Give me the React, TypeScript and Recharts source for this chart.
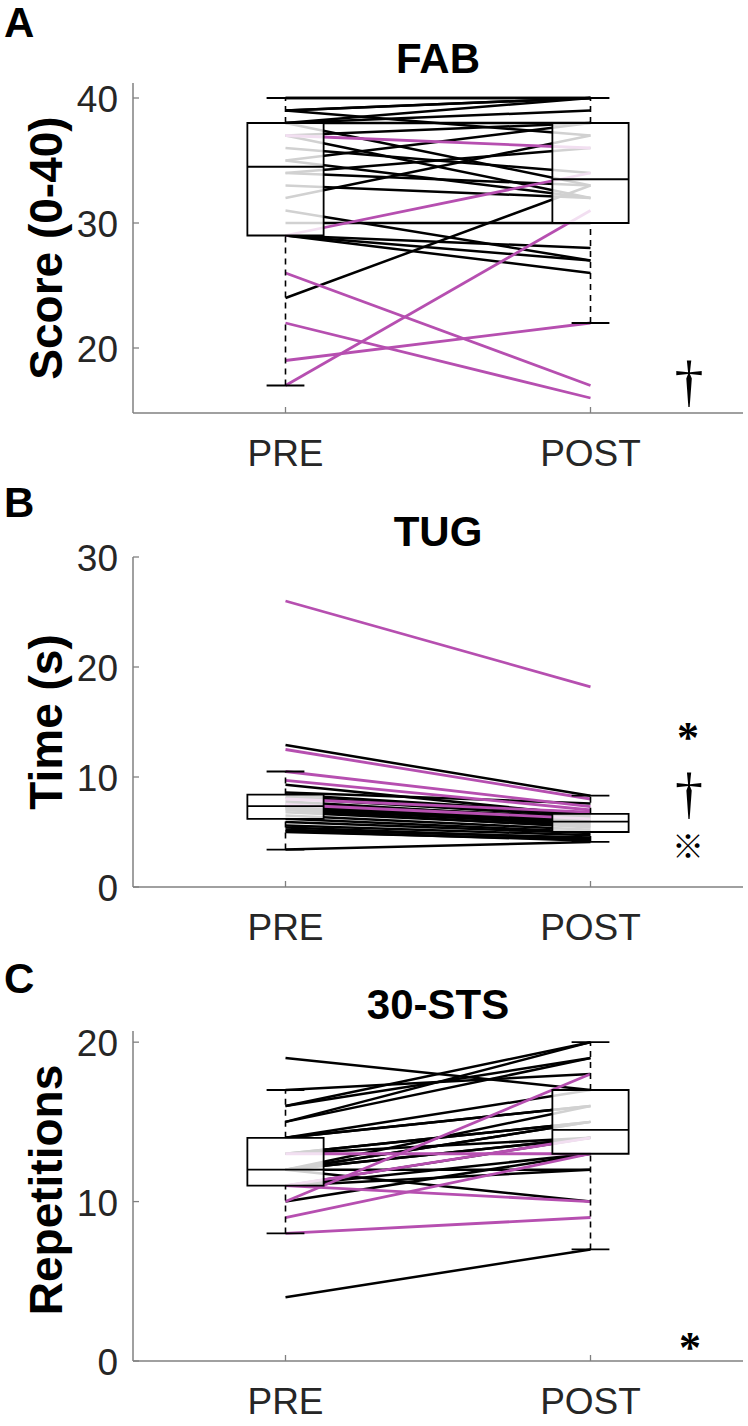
import React from "react";
import {
  ComposedChart,
  Line,
  XAxis,
  YAxis,
  ReferenceArea,
  ReferenceLine,
} from "recharts";

const phases = ["PRE", "POST"];

// FAB (score 0-40)
const fabPreBlack = [40, 40, 39, 39, 39, 38, 38, 38, 38, 37, 37, 36, 35, 35, 34, 34, 33, 32, 31, 30, 29, 29, 29, 24];
const fabPostBlack = [40, 40, 40, 40, 37, 39, 40, 38, 33, 32, 38, 34, 32, 38, 33, 36, 32, 37, 27, 30, 28, 27, 26, 33];
const fabPreMag = [26, 22, 19, 17, 29, 37];
const fabPostMag = [17, 16, 22, 31, 34, 36];
const fabPreBox = [17, 29, 34.5, 38, 40];
const fabPostBox = [22, 30, 33.5, 38, 40];
const fabTicks = [20, 30, 40];

// TUG (s)
const tugPreBlack = [3.4, 5.0, 5.1, 5.2, 5.4, 5.6, 5.9, 6.2, 6.5, 6.8, 7.0, 7.1, 7.2, 7.3, 7.3, 7.4, 7.6, 7.8, 8.1, 8.2, 8.4, 8.6, 9.3, 12.9];
const tugPostBlack = [4.1, 4.3, 4.2, 4.5, 4.4, 4.7, 4.9, 5.0, 5.2, 5.5, 5.4, 5.7, 5.6, 5.9, 5.8, 6.0, 6.3, 6.1, 6.4, 6.6, 6.7, 7.6, 6.5, 8.3];
const tugPreMag = [26.0, 12.5, 10.5, 9.7, 8.0, 7.5];
const tugPostMag = [18.2, 8.0, 7.3, 7.0, 6.8, 6.2];
const tugPreBox = [3.4, 6.2, 7.35, 8.4, 10.5];
const tugPostBox = [4.1, 5.0, 5.95, 6.65, 8.3];
const tugTicks = [0, 10, 20, 30];

// 30-STS (repetitions)
const stsPreBlack = [4, 12, 12, 11, 10, 11, 11, 12, 12, 12, 12, 12, 13, 13, 13, 14, 14, 14, 15, 15, 16, 16, 17, 19];
const stsPostBlack = [7, 10, 12, 12, 13, 13, 14, 14, 14, 15, 15, 16, 14, 15, 15, 16, 16, 17, 20, 19, 19, 20, 18, 17];
const stsPreMag = [8, 9, 10, 11, 13, 11];
const stsPostMag = [9, 13, 18, 10, 13, 14];
const stsPreBox = [8, 11, 12, 14, 17];
const stsPostBox = [7, 13, 14.5, 17, 20];
const stsTicks = [0, 10, 20];

const FONT = "'Liberation Sans', Arial, Helvetica, sans-serif";
const SERIF = "'Liberation Serif', serif";
const INK = "#262626";
const AXIS = "#808080";
const MAGENTA = "#B64FB0";
const BOX_HALF = 0.125;
const CAP_HALF = 0.062;

const YTick = (props: any) => {
  const { x, y, payload } = props;
  return (
    <g>
      <line x1={x} x2={x + 6} y1={y} y2={y} stroke={AXIS} strokeWidth={1.3} />
      <text x={x - 15} y={y + 14} textAnchor="end" fontSize={37} fill={INK} fontFamily={FONT}>
        {payload.value}
      </text>
    </g>
  );
};

const XTick = (props: any) => {
  const { x, y, payload } = props;
  return (
    <g>
      <line x1={x} x2={x} y1={y} y2={y - 6} stroke={AXIS} strokeWidth={1.3} />
      <text x={x} y={y + 53} textAnchor="middle" fontSize={37} fill={INK} fontFamily={FONT}>
        {phases[payload.value - 1]}
      </text>
    </g>
  );
};

type PanelProps = {
  top: number;
  preBlack: number[];
  postBlack: number[];
  preMag: number[];
  postMag: number[];
  preBox: number[];
  postBox: number[];
  domain: [number, number];
  ticks: number[];
};

const boxPlot = (pos: number, s: number[]) => {
  const [lo, q1, med, q3, hi] = s;
  return [
    <ReferenceArea
      key={`a${pos}`}
      x1={pos - BOX_HALF}
      x2={pos + BOX_HALF}
      y1={q1}
      y2={q3}
      fill="#ffffff"
      fillOpacity={0.82}
      stroke="#000"
      strokeWidth={1.8}
      zIndex={600}
    />,
    <ReferenceLine key={`m${pos}`} segment={[{ x: pos - BOX_HALF, y: med }, { x: pos + BOX_HALF, y: med }]} stroke="#000" strokeWidth={1.8} zIndex={700} />,
    <ReferenceLine key={`wu${pos}`} segment={[{ x: pos, y: q3 }, { x: pos, y: hi }]} stroke="#000" strokeWidth={1.6} strokeDasharray="6 5" zIndex={700} />,
    <ReferenceLine key={`wl${pos}`} segment={[{ x: pos, y: lo }, { x: pos, y: q1 }]} stroke="#000" strokeWidth={1.6} strokeDasharray="6 5" zIndex={700} />,
    <ReferenceLine key={`cu${pos}`} segment={[{ x: pos - CAP_HALF, y: hi }, { x: pos + CAP_HALF, y: hi }]} stroke="#000" strokeWidth={1.8} zIndex={700} />,
    <ReferenceLine key={`cl${pos}`} segment={[{ x: pos - CAP_HALF, y: lo }, { x: pos + CAP_HALF, y: lo }]} stroke="#000" strokeWidth={1.8} zIndex={700} />,
  ];
};

const Panel = (p: PanelProps) => {
  const rows = [1, 2].map((x) => {
    const row: Record<string, number> = { x };
    const pb = x === 1 ? p.preBlack : p.postBlack;
    const pm = x === 1 ? p.preMag : p.postMag;
    pb.forEach((v, i) => (row[`k${i}`] = v));
    pm.forEach((v, i) => (row[`m${i}`] = v));
    return row;
  });

  return (
    <div style={{ position: "absolute", left: 0, top: p.top - 20 }}>
      <ComposedChart width={748} height={420} data={rows} margin={{ top: 20, right: 5, bottom: 0, left: 0 }}>
        <XAxis
          dataKey="x"
          type="number"
          domain={[0.5, 2.5]}
          ticks={[1, 2]}
          allowDataOverflow
          height={70}
          stroke={AXIS}
          strokeWidth={1.5}
          tickSize={0}
          tickMargin={0}
          tickLine={false}
          tick={<XTick />}
        />
        <YAxis
          type="number"
          domain={p.domain}
          ticks={p.ticks}
          allowDataOverflow
          width={133}
          stroke={AXIS}
          strokeWidth={1.5}
          tickSize={0}
          tickMargin={0}
          tickLine={false}
          tick={<YTick />}
        />
        {p.preBlack.map((_, i) => (
          <Line key={`k${i}`} dataKey={`k${i}`} type="linear" stroke="#000" strokeWidth={2.5} dot={false} isAnimationActive={false} />
        ))}
        {p.preMag.map((_, i) => (
          <Line key={`m${i}`} dataKey={`m${i}`} type="linear" stroke={MAGENTA} strokeWidth={2.8} dot={false} isAnimationActive={false} />
        ))}
        {boxPlot(1, p.preBox)}
        {boxPlot(2, p.postBox)}
      </ComposedChart>
    </div>
  );
};

const bold = { fontFamily: FONT, fontWeight: 700, fill: "#000" } as const;

export default function App() {
  return (
    <div style={{ position: "absolute", left: 0, top: 0, width: 748, height: 1426, background: "#fff", overflow: "hidden" }}>
      <Panel top={83} preBlack={fabPreBlack} postBlack={fabPostBlack} preMag={fabPreMag} postMag={fabPostMag} preBox={fabPreBox} postBox={fabPostBox} domain={[14.8, 41.2]} ticks={fabTicks} />
      <Panel top={557} preBlack={tugPreBlack} postBlack={tugPostBlack} preMag={tugPreMag} postMag={tugPostMag} preBox={tugPreBox} postBox={tugPostBox} domain={[0, 30]} ticks={tugTicks} />
      <Panel top={1031} preBlack={stsPreBlack} postBlack={stsPostBlack} preMag={stsPreMag} postMag={stsPostMag} preBox={stsPreBox} postBox={stsPostBox} domain={[0, 20.7]} ticks={stsTicks} />
      <svg width={748} height={1426} style={{ position: "absolute", left: 0, top: 0, pointerEvents: "none" }}>
        <text x={4} y={37} fontSize={42} {...bold}>A</text>
        <text x={4} y={517} fontSize={42} {...bold}>B</text>
        <text x={4} y={993} fontSize={42} {...bold}>C</text>

        <text x={438} y={73} fontSize={42} textAnchor="middle" {...bold}>FAB</text>
        <text x={438} y={546} fontSize={42} textAnchor="middle" {...bold}>TUG</text>
        <text x={438} y={1019} fontSize={42} textAnchor="middle" {...bold}>30-STS</text>

        <text transform="translate(62,248) rotate(-90)" fontSize={46} textAnchor="middle" {...bold}>Score (0-40)</text>
        <text transform="translate(62,722) rotate(-90)" fontSize={46} textAnchor="middle" {...bold}>Time (s)</text>
        <text transform="translate(62,1190) rotate(-90)" fontSize={46} textAnchor="middle" {...bold}>Repetitions</text>

        <text x={689} y={400} fontSize={58} textAnchor="middle" fontFamily={SERIF} fill="#000">†</text>
        <text x={688} y={752} fontSize={44} fontWeight={700} textAnchor="middle" fontFamily={SERIF} fill="#000">*</text>
        <text x={689} y={812} fontSize={56} textAnchor="middle" fontFamily={SERIF} fill="#000">†</text>
        <text x={688} y={858} fontSize={32} textAnchor="middle" fontFamily="'Noto Sans CJK JP', sans-serif" fill="#000">※</text>
        <text x={690} y={1362} fontSize={44} fontWeight={700} textAnchor="middle" fontFamily={SERIF} fill="#000">*</text>
      </svg>
    </div>
  );
}
